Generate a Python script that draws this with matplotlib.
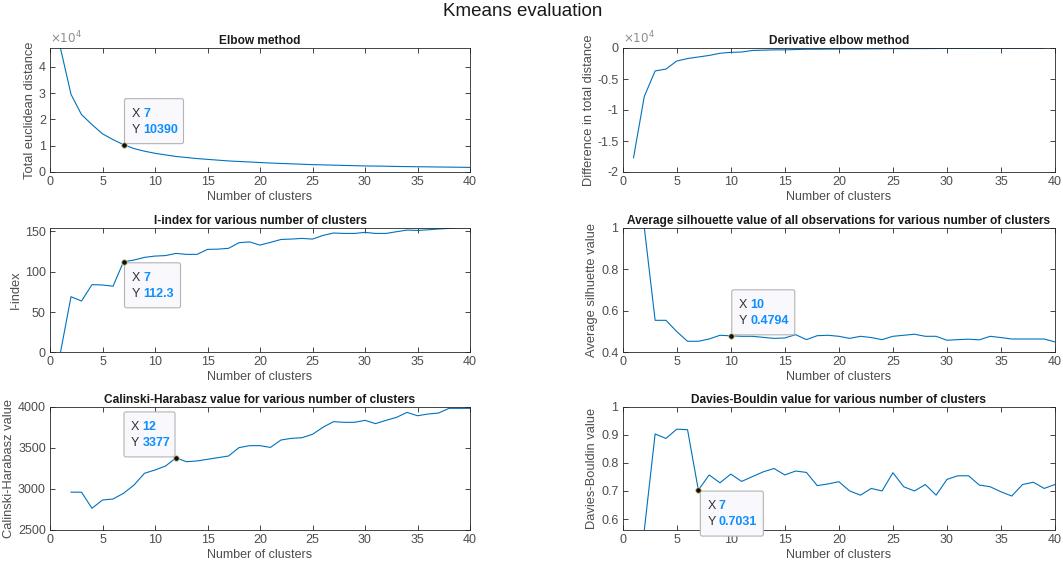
import numpy as np
import matplotlib
matplotlib.use("Agg")
import matplotlib.pyplot as plt
from matplotlib.patches import FancyBboxPatch
from matplotlib.transforms import Affine2D, ScaledTranslation
from matplotlib.ticker import FuncFormatter

plt.rcParams['font.family'] = ['Liberation Sans', 'DejaVu Sans']
plt.rcParams['axes.unicode_minus'] = False

# ---------------- data ----------------
k_elbow = list(range(1, 41))
elbow = [47000, 29500, 21800, 18000, 14500, 12300, 10390, 8900, 7900, 7100,
         6500, 5900, 5500, 5100, 4800, 4500, 4200, 4000, 3800, 3600,
         3400, 3250, 3100, 2950, 2800, 2700, 2600, 2500, 2400, 2300,
         2250, 2200, 2100, 2050, 2000, 1950, 1900, 1850, 1800, 1750]

k_deriv = list(range(1, 40))
deriv = [-17700, -7800, -3700, -3400, -2100, -1700, -1450, -1200, -850, -700,
         -650, -400, -350, -300, -300, -250, -200, -200, -180, -170,
         -150, -150, -130, -120, -100, -100, -90, -90, -80, -70,
         -60, -60, -50, -50, -50, -40, -40, -40, -30]

k_iindex = list(range(1, 41))
iindex = [0, 69, 63.6, 84, 83.5, 82, 112.3, 114.5, 117.8, 119.4,
          120, 122.7, 121.5, 121.5, 127.7, 128, 129, 136, 137, 133,
          136.4, 140, 140.5, 141.3, 140.5, 145, 148, 147.5, 147.5, 148.8,
          147.5, 147.5, 149.6, 151.7, 151.2, 152, 153, 153.7, 154.5, 154.6]

k_sil = list(range(2, 41))
silhouette = [1.0, 0.554, 0.554, 0.50, 0.453, 0.453, 0.464, 0.482, 0.4794,
              0.477, 0.477, 0.472, 0.467, 0.469, 0.485, 0.461, 0.480, 0.482, 0.477,
              0.467, 0.477, 0.471, 0.461, 0.477, 0.482, 0.487, 0.477, 0.477, 0.458,
              0.461, 0.463, 0.460, 0.477, 0.471, 0.464, 0.464, 0.464, 0.464, 0.450]

k_ch = list(range(2, 41))
calinski = [2960, 2960, 2764, 2865, 2877, 2946, 3047, 3190, 3230, 3278,
            3377, 3331, 3340, 3360, 3380, 3400, 3502, 3526, 3526, 3505,
            3595, 3615, 3623, 3664, 3750, 3818, 3810, 3810, 3834, 3794,
            3834, 3870, 3931, 3890, 3911, 3923, 3980, 3980, 3980]

k_db = list(range(2, 41))
davies = [0.561, 0.903, 0.887, 0.920, 0.918, 0.7031, 0.757, 0.729, 0.760,
          0.734, 0.751, 0.768, 0.780, 0.757, 0.771, 0.766, 0.719, 0.725, 0.733,
          0.700, 0.685, 0.709, 0.700, 0.765, 0.715, 0.700, 0.723, 0.685, 0.741,
          0.754, 0.754, 0.721, 0.715, 0.697, 0.682, 0.723, 0.731, 0.709, 0.723]

titles = ["Elbow method", "Derivative elbow method",
          "I-index for various number of clusters",
          "Average silhouette value of all observations for various number of clusters",
          "Calinski-Harabasz value for various number of clusters",
          "Davies-Bouldin value for various number of clusters"]
ylabels = ["Total euclidean distance", "Difference in total distance", "I-index",
           "Average silhuette value", "Calinski-Harabasz value", "Davies-Bouldin value"]

# data tips: (x, x text, y text)
tips = [(7, "7", "10390"), None, (7, "7", "112.3"), (10, "10", "0.4794"),
        (12, "12", "3377"), (7, "7", "0.7031")]

# ---------------- figure ----------------
W, H = 1063, 571
fig = plt.figure(figsize=(W / 100, H / 100), dpi=100)
fig.patch.set_facecolor('white')

def rect(x0, y0, x1, y1):
    return [x0 / W, 1 - y1 / H, (x1 - x0) / W, (y1 - y0) / H]

L = (50, 470)
R = (622.7, 1055)
rows = [(48, 172), (227.7, 352.3), (406.7, 530)]
positions = [rect(L[0], rows[0][0], L[1], rows[0][1]), rect(R[0], rows[0][0], R[1], rows[0][1]),
             rect(L[0], rows[1][0], L[1], rows[1][1]), rect(R[0], rows[1][0], R[1], rows[1][1]),
             rect(L[0], rows[2][0], L[1], rows[2][1]), rect(R[0], rows[2][0], R[1], rows[2][1])]

xs = [k_elbow, k_deriv, k_iindex, k_sil, k_ch, k_db]
ys = [elbow, deriv, iindex, silhouette, calinski, davies]
ylims = [(0, 47100), (-20000, 0), (0, 154.6), (0.4, 1.0), (2500, 4000), (0.561, 1.0)]
yticks = [[0, 10000, 20000, 30000, 40000],
          [-20000, -15000, -10000, -5000, 0],
          [0, 50, 100, 150],
          [0.4, 0.6, 0.8, 1.0],
          [2500, 3000, 3500, 4000],
          [0.6, 0.7, 0.8, 0.9, 1.0]]

AX = '#262626'
TICKC = '#4d4d4d'
LINE = '#0072BD'
TIPBLUE = '#0f8fff'

box_geo = [(1, 1), None, (1, -46), (1, 1), (-52, 1), (2, -46)]
box_w = [59, None, 56, 63, 51, 63]

for i, pos in enumerate(positions):
    ax = fig.add_axes(pos)
    ax.plot(xs[i], ys[i], color=LINE, lw=0.8, solid_joinstyle='round')
    ax.set_xlim(0, 40)
    ax.set_ylim(*ylims[i])
    ax.set_xticks(range(0, 41, 5))
    ax.set_yticks(yticks[i])
    ax.tick_params(direction='in', top=True, right=True, length=3.5, width=0.6,
                   colors=AX, labelcolor=TICKC, labelsize=9, pad=3)
    for s in ax.spines.values():
        s.set_color(AX)
        s.set_linewidth(0.6)
    ax.set_title(titles[i], fontsize=8.6, fontweight='bold', color='#1a1a1a', pad=3)
    ax.set_xlabel("Number of clusters", fontsize=9, color=TICKC, labelpad=2)
    ax.set_ylabel(ylabels[i], fontsize=9.3, color=TICKC, labelpad=2)
    if i in (0, 1):
        ax.yaxis.set_major_formatter(FuncFormatter(lambda v, p: f"{v / 1e4:g}"))
        ax.text(0.0, 1.012, r"$\times10^{4}$", transform=ax.transAxes, fontsize=8.6,
                color='#8c8c8c', ha='left', va='bottom')
    else:
        ax.yaxis.set_major_formatter(FuncFormatter(lambda v, p: f"{v:g}"))

    tip = tips[i]
    if tip is not None:
        kx, xt, yt = tip
        idx = list(xs[i]).index(kx)
        yv = ys[i][idx]
        ax.plot([kx], [yv], marker='o', ms=4, mfc='#111111', mec='#d9cf8c', mew=0.6,
                clip_on=False, zorder=6)
        tr = Affine2D() + ScaledTranslation(kx, yv, ax.transData)
        dx, dy = box_geo[i]
        bw, bh = box_w[i], 45
        box = FancyBboxPatch((dx, dy), bw, bh, boxstyle="round,pad=0,rounding_size=2",
                             transform=tr, facecolor='#f8f8fd', edgecolor='#b4b4b4',
                             lw=0.8, clip_on=False, zorder=5)
        ax.add_patch(box)
        tx = dx + 7
        for j, (lab, val) in enumerate((("X", xt), ("Y", yt))):
            ty = dy + bh - 15 - 16 * j
            ax.text(tx, ty, lab, transform=tr, fontsize=9, color='#333333',
                    ha='left', va='center', zorder=7, clip_on=False)
            ax.text(tx + 11.5, ty, val, transform=tr, fontsize=9, color=TIPBLUE,
                    fontweight='bold', ha='left', va='center', zorder=7, clip_on=False)

fig.text(0.492, 1 - 11 / H, "Kmeans evaluation", ha='center', va='center',
         fontsize=13.5, color='#1a1a1a')

fig.savefig("out.png", dpi=100, facecolor='white')
